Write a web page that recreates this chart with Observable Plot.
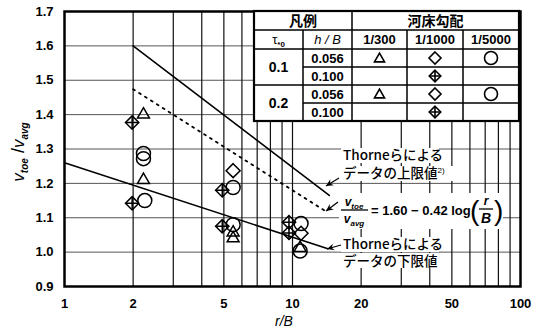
<!DOCTYPE html>
<html><head><meta charset="utf-8">
<script src="https://cdn.jsdelivr.net/npm/d3@7"></script>
<script src="https://cdn.jsdelivr.net/npm/@observablehq/plot@0.6"></script>
<style>
body{margin:0;background:#fff}
#chart svg{display:block}
</style></head><body><div id="chart"></div>
<script>
// ---- tick values ----
const xTicks = [1, 2, 5, 10, 20, 50, 100];
const yTicks = [0.9, 1.0, 1.1, 1.2, 1.3, 1.4, 1.5, 1.6, 1.7];
const xGrid = [2, 3, 4, 5, 6, 7, 8, 9, 10, 20, 30, 40, 50, 60, 70, 80, 90];
const yGrid = [1.0, 1.1, 1.2, 1.3, 1.4, 1.5, 1.6];

// ---- measured points (r/B, v_toe/v_avg) ----
// 1/300, h/B=0.056 : triangle
const triX = [2.22, 2.22, 5.49, 5.49, 10.8];
const triY = [1.40, 1.21, 1.057, 1.040, 1.012];
// 1/1000, h/B=0.056 : diamond
const diaX = [5.49, 10.9];
const diaY = [1.237, 1.055];
// 1/1000, h/B=0.100 : crossed diamond
const cdiaX = [1.98, 1.98, 4.92, 4.92, 9.65, 9.65];
const cdiaY = [1.377, 1.142, 1.180, 1.075, 1.087, 1.056];
// 1/5000, h/B=0.056 : circle
const circX = [2.22, 2.22, 2.25, 5.49, 5.49, 10.9, 10.8];
const circY = [1.287, 1.272, 1.150, 1.188, 1.080, 1.083, 1.003];

// ---- reference lines ----
const upperX = [2, 14.5],  upperY = [1.60, 1.165];   // Thorne upper bound
const lowerX = [1, 14.3],  lowerY = [1.26, 1.01];    // Thorne lower bound
const eqX    = [2, 13.9],  eqY    = [1.474, 1.12];   // 1.60 - 0.42 log(r/B)

// ---- legend table texts ----
const legendHead = ["凡例", "河床勾配"];
const slopes = ["1/300", "1/1000", "1/5000"];
const taus = ["0.1", "0.2"];
const hbs = ["0.056", "0.100"];

const pts = (xs, ys) => xs.map((x, i) => ({x, y: ys[i]}));
const dotStyle = {x: "x", y: "y", stroke: "#000", strokeWidth: 1.5, fill: "none"};

const chart = Plot.plot({
  width: 546, height: 331,
  marginLeft: 64, marginRight: 26, marginTop: 11, marginBottom: 45,
  style: {fontFamily: "'Liberation Sans', Arial, sans-serif", fontSize: "13px", fontWeight: "bold", color: "#000", background: "#fff"},
  x: {type: "log", domain: [1, 100], ticks: xTicks, tickFormat: d => String(d), tickSize: 0, tickPadding: 12, label: null},
  y: {domain: [0.9, 1.7], ticks: yTicks, tickFormat: d => d.toFixed(1), tickSize: 0, tickPadding: 11, label: null},
  marks: [
    Plot.ruleY(yGrid, {stroke: "#555", strokeWidth: 1}),
    Plot.ruleX(xGrid, {stroke: "#111", strokeWidth: 1.2}),
    Plot.line(pts(upperX, upperY), {x: "x", y: "y", stroke: "#000", strokeWidth: 1.6}),
    Plot.line(pts(lowerX, lowerY), {x: "x", y: "y", stroke: "#000", strokeWidth: 1.6}),
    Plot.line(pts(eqX, eqY), {x: "x", y: "y", stroke: "#000", strokeWidth: 1.8, strokeDasharray: "2,5"}),
    Plot.dot(pts(triX, triY), {...dotStyle, symbol: "triangle2", r: 5.7}),
    Plot.dot(pts(diaX, diaY), {...dotStyle, symbol: "diamond2", r: 6.3}),
    Plot.dot(pts(cdiaX, cdiaY), {...dotStyle, symbol: "diamond2", r: 6.0}),
    Plot.dot(pts(cdiaX, cdiaY), {...dotStyle, symbol: "plus", r: 4.3}),
    Plot.dot(pts(circX, circY), {...dotStyle, symbol: "circle", r: 7}),
    Plot.frame({stroke: "#000", strokeWidth: 2.5})
  ]
});
document.getElementById("chart").appendChild(chart);

// ---------- overlay: labels, annotations, legend table ----------
const svg = d3.select(chart);
const jp = "'Noto Sans CJK JP', 'Noto Sans', sans-serif";
const lat = "'Liberation Sans', Arial, sans-serif";

// y axis label  v_toe / v_avg
const yl = svg.append("text").attr("transform", "translate(24,152) rotate(-90)")
  .attr("text-anchor", "middle").attr("font-family", lat).attr("font-size", 17).attr("font-weight", "normal").attr("fill", "#000");
yl.append("tspan").attr("font-style", "italic").text("v");
yl.append("tspan").attr("font-style", "italic").attr("font-size", 10).attr("font-weight", "bold").attr("dy", 4).text("toe");
yl.append("tspan").attr("dy", -4).attr("font-size", 18).text(" /");
yl.append("tspan").attr("font-style", "italic").text("v");
yl.append("tspan").attr("font-style", "italic").attr("font-size", 10).attr("font-weight", "bold").attr("dy", 4).text("avg");

// x axis label
svg.append("text").attr("x", 284).attr("y", 326).attr("text-anchor", "middle").attr("font-weight", "normal")
  .attr("font-family", lat).attr("font-size", 14).attr("font-style", "italic").text("r/B");

// white backgrounds for annotation text
const bg = svg.append("g").attr("fill", "#fff");
[[341, 148, 98, 15], [341, 166, 112, 15], [339, 193, 164, 36], [341, 237, 98, 15], [341, 253, 106, 15]]
  .forEach(([x, y, w, h]) => bg.append("rect").attr("x", x).attr("y", y).attr("width", w).attr("height", h));

// arrows
function arrow(x1, y1, x2, y2) {
  svg.append("line").attr("x1", x1).attr("y1", y1).attr("x2", x2).attr("y2", y2)
    .attr("stroke", "#000").attr("stroke-width", 1.3);
  const a = Math.atan2(y2 - y1, x2 - x1), L = 8, s = 0.45;
  const p = [[x2, y2],
    [x2 - L * Math.cos(a - s), y2 - L * Math.sin(a - s)],
    [x2 - L * 0.6 * Math.cos(a), y2 - L * 0.6 * Math.sin(a)],
    [x2 - L * Math.cos(a + s), y2 - L * Math.sin(a + s)]];
  svg.append("path").attr("d", "M" + p.join("L") + "Z").attr("fill", "#000");
}
arrow(339, 178, 326, 186);
arrow(338, 202, 326, 211);
arrow(341, 245, 327, 249);

// annotation texts
function jtext(x, y, str) {
  return svg.append("text").attr("x", x).attr("y", y).attr("dy", "0.35em").attr("text-anchor", "start")
    .attr("font-family", jp).attr("font-size", 13.5).attr("font-weight", 500).attr("fill", "#000").text(str);
}
jtext(343, 155, "Thorneらによる");
const up2 = jtext(343, 173, "データの上限値");
up2.append("tspan").attr("font-size", 8).attr("dy", -5).attr("font-family", lat).text("2)");
jtext(343, 244, "Thorneらによる");
jtext(343, 261, "データの下限値");

// equation
const eq = svg.append("g").attr("font-family", lat).attr("fill", "#000");
function sub(g, x, y, main, s) {
  const t = g.append("text").attr("x", x).attr("y", y).attr("text-anchor", "middle").attr("font-size", 12);
  t.append("tspan").attr("font-style", "italic").text(main);
  t.append("tspan").attr("font-style", "italic").attr("font-size", 8).attr("dy", 3).text(s);
}
sub(eq, 354, 206, "v", "toe");
sub(eq, 354, 223, "v", "avg");
eq.append("line").attr("x1", 341).attr("x2", 368).attr("y1", 210).attr("y2", 210).attr("stroke", "#000").attr("stroke-width", 1.3);
eq.append("text").attr("x", 371).attr("y", 215).attr("text-anchor", "start").attr("font-size", 13).text("= 1.60 − 0.42 log");
eq.append("text").attr("x", 470).attr("y", 220).attr("text-anchor", "start").attr("font-size", 28).attr("font-weight", "normal").text("(");
eq.append("text").attr("x", 486).attr("y", 205).attr("text-anchor", "middle").attr("font-size", 12).attr("font-style", "italic").text("r");
eq.append("line").attr("x1", 479).attr("x2", 493).attr("y1", 209).attr("y2", 209).attr("stroke", "#000").attr("stroke-width", 1.3);
eq.append("text").attr("x", 486).attr("y", 223).attr("text-anchor", "middle").attr("font-size", 14).attr("font-style", "italic").text("B");
eq.append("text").attr("x", 494).attr("y", 220).attr("text-anchor", "start").attr("font-size", 28).attr("font-weight", "normal").text(")");

// legend table
const cols = [254, 303, 352, 407, 463, 519];
const rows = [11, 30, 49, 67, 85, 103, 121];
const tb = svg.append("g");
tb.append("rect").attr("x", cols[0]).attr("y", rows[0]).attr("width", cols[5] - cols[0]).attr("height", rows[6] - rows[0])
  .attr("fill", "#fff").attr("stroke", "#000").attr("stroke-width", 2.2);
function hl(x1, x2, y, w = 1.5) { tb.append("line").attr("x1", x1).attr("x2", x2).attr("y1", y).attr("y2", y).attr("stroke", "#000").attr("stroke-width", w); }
function vl(x, y1, y2, w = 1.5) { tb.append("line").attr("x1", x).attr("x2", x).attr("y1", y1).attr("y2", y2).attr("stroke", "#000").attr("stroke-width", w); }
hl(cols[0], cols[5], rows[1]); hl(cols[0], cols[5], rows[2]); hl(cols[0], cols[5], rows[4]);
hl(cols[1], cols[5], rows[3]); hl(cols[1], cols[5], rows[5]);
vl(cols[1], rows[1], rows[6]); vl(cols[2], rows[0], rows[6]); vl(cols[3], rows[1], rows[6]); vl(cols[4], rows[1], rows[6]);

function ct(x, y, str, opt = {}) {
  const t = tb.append("text").attr("x", x).attr("y", y).attr("dy", "0.36em").attr("text-anchor", "middle")
    .attr("font-family", opt.ff || lat).attr("font-size", opt.fs || 13).attr("fill", "#000");
  if (opt.fw) t.attr("font-weight", opt.fw);
  if (opt.it) t.attr("font-style", "italic");
  t.text(str);
  return t;
}
const mid = (a, b) => (a + b) / 2;
ct(mid(cols[0], cols[2]), mid(rows[0], rows[1]), legendHead[0], {ff: jp, fs: 14, fw: "bold"});
ct(mid(cols[2], cols[5]), mid(rows[0], rows[1]), legendHead[1], {ff: jp, fs: 14, fw: "bold"});
const tau = ct(mid(cols[0], cols[1]), mid(rows[1], rows[2]), "τ", {fs: 13, fw: "normal"});
tau.append("tspan").attr("font-size", 8).attr("font-weight", "bold").attr("dy", 3).text("*0");
ct(mid(cols[1], cols[2]), mid(rows[1], rows[2]), "h / B", {it: true, fw: "normal"});
slopes.forEach((s, i) => ct(mid(cols[2 + i], cols[3 + i]), mid(rows[1], rows[2]), s));
taus.forEach((t, i) => {
  ct(mid(cols[0], cols[1]), rows[2 + 2 * i + 1], t, {fs: 14});
  hbs.forEach((h, j) => ct(mid(cols[1], cols[2]), mid(rows[2 + 2 * i + j], rows[3 + 2 * i + j]), h));
});
function sym(type, x, y, r) {
  tb.append("path").attr("transform", `translate(${x},${y})`)
    .attr("d", d3.symbol(type, Math.PI * r * r)())
    .attr("fill", "none").attr("stroke", "#000").attr("stroke-width", 1.6);
}
[0, 1].forEach(i => {
  const yA = mid(rows[2 + 2 * i], rows[3 + 2 * i]);
  const yB = mid(rows[3 + 2 * i], rows[4 + 2 * i]);
  sym(d3.symbolTriangle2, mid(cols[2], cols[3]), yA + 1, 4.8);
  sym(d3.symbolDiamond2, mid(cols[3], cols[4]), yA, 5.4);
  sym(d3.symbolCircle, mid(cols[4], cols[5]), yA, 6.5);
  sym(d3.symbolDiamond2, mid(cols[3], cols[4]), yB, 5.2);
  sym(d3.symbolPlus, mid(cols[3], cols[4]), yB, 3.6);
});
</script></body></html>
